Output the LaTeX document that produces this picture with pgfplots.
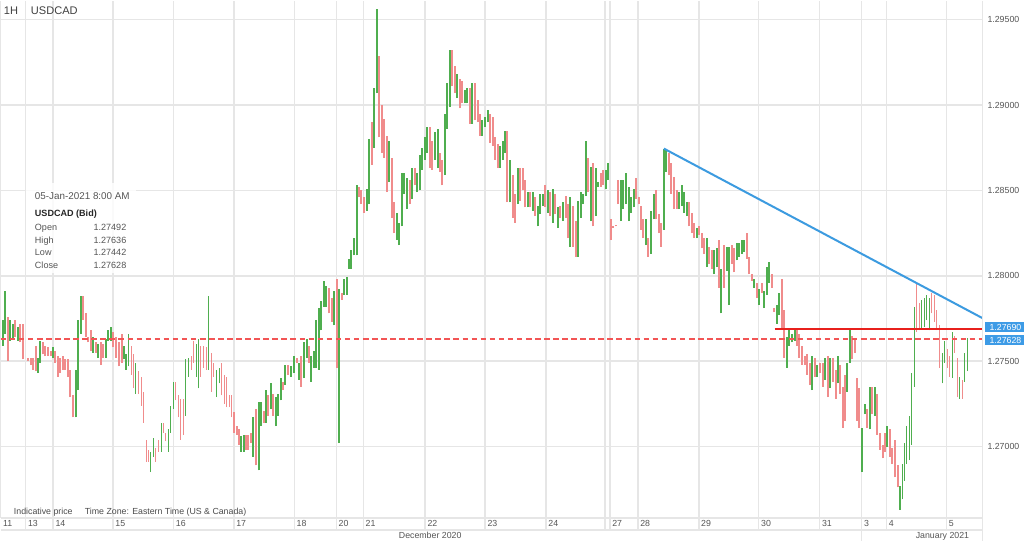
\documentclass[border=0pt]{standalone}
\usepackage{fontspec}
\setmainfont{Liberation Sans}
\usepackage{pgfplots}
\usepackage{pgfplotstable}
\pgfplotsset{compat=1.18}
\definecolor{bargreen}{HTML}{4FAE4F}
\definecolor{barred}{HTML}{F08C8C}
\definecolor{gridgray}{HTML}{E6E6E6}
\definecolor{txtgray}{HTML}{555555}
\definecolor{trendblue}{HTML}{3C9BE0}
\definecolor{lvlred}{HTML}{E8201C}
\definecolor{lastred}{HTML}{F25555}
\definecolor{tagblue}{HTML}{3D9BE6}

% hourly bars: x position, low, high, up(1)/down(0)
\pgfplotstableread{
x lo hi d
2 1.2759 1.2774 1
4 1.2766 1.2791 1
7 1.2750 1.2776 0
9 1.2762 1.2774 1
12 1.2763 1.2772 1
14 1.2764 1.2774 0
17 1.2762 1.2770 1
19 1.2761 1.2772 0
22 1.2751 1.2772 0
27 1.2750 1.2752 0
30 1.2748 1.2752 0
32 1.2745 1.2752 0
35 1.2744 1.2759 0
37 1.2743 1.2752 1
39 1.2749 1.2762 1
42 1.2754 1.2761 0
44 1.2753 1.2759 0
47 1.2753 1.2758 0
50 1.2753 1.2756 0
52 1.2752 1.2758 1
54 1.2749 1.2756 0
57 1.2741 1.2753 0
59 1.2743 1.2752 0
62 1.2745 1.2753 0
64 1.2745 1.2751 0
67 1.2741 1.2751 0
69 1.2729 1.2745 0
72 1.2717 1.2730 0
75 1.2717 1.2745 1
77 1.2733 1.2774 1
80 1.2766 1.2788 1
82 1.2774 1.2788 0
85 1.2764 1.2778 0
87 1.2761 1.2764 0
90 1.2756 1.2768 0
92 1.2755 1.2764 1
95 1.2755 1.2761 0
97 1.2752 1.2760 1
100 1.2748 1.2761 0
102 1.2752 1.2760 0
105 1.2752 1.2763 1
107 1.2762 1.2768 1
110 1.2762 1.2770 1
112 1.2758 1.2767 0
115 1.2752 1.2764 0
118 1.2747 1.2761 0
121 1.2749 1.2766 0
123 1.2751 1.2759 1
125 1.2745 1.2754 1
128 1.2747 1.2766 1
131 1.2742 1.2759 0
133 1.2734 1.2754 0
135 1.2731 1.2749 1
138 1.2731 1.2744 0
141 1.2724 1.2741 0
143 1.2714 1.2732 0
146 1.2691 1.2704 0
148 1.2691 1.2698 0
150 1.2685 1.2697 1
153 1.2694 1.2705 1
155 1.2691 1.2699 0
158 1.2697 1.2704 0
161 1.2697 1.2714 1
163 1.2708 1.2714 0
165 1.2703 1.2708 0
168 1.2697 1.2710 1
170 1.2708 1.2724 1
173 1.2722 1.2738 1
175 1.2727 1.2738 0
178 1.2717 1.2730 0
180 1.2704 1.2728 0
183 1.2707 1.2728 0
185 1.2718 1.2751 1
188 1.2741 1.2752 1
191 1.2745 1.2753 0
193 1.2749 1.2762 0
196 1.2741 1.2760 1
198 1.2734 1.2763 1
200 1.2741 1.2759 0
203 1.2746 1.2759 0
206 1.2745 1.2758 0
208 1.2745 1.2788 1
211 1.2732 1.2755 0
213 1.2741 1.2749 0
216 1.2729 1.2745 1
219 1.2737 1.2746 1
221 1.2730 1.2749 0
224 1.2725 1.2742 0
226 1.2723 1.2741 0
229 1.2723 1.2730 0
231 1.2717 1.2730 0
234 1.2708 1.2720 0
237 1.2707 1.2712 0
239 1.2701 1.2710 0
241 1.2697 1.2706 1
244 1.2697 1.2707 1
246 1.2698 1.2707 0
248 1.2698 1.2707 0
251 1.2702 1.2708 0
253 1.2694 1.2717 1
256 1.2689 1.2722 0
259 1.2686 1.2726 1
261 1.2712 1.2726 1
264 1.2714 1.2721 0
266 1.2714 1.2733 1
268 1.2718 1.2730 0
271 1.2722 1.2737 1
273 1.2718 1.2731 0
276 1.2712 1.2729 1
278 1.2718 1.2731 1
281 1.2727 1.2740 1
283 1.2733 1.2738 0
285 1.2736 1.2748 1
288 1.2742 1.2748 0
291 1.2741 1.2747 1
294 1.2743 1.2753 1
297 1.2749 1.2752 0
299 1.2739 1.2749 1
301 1.2735 1.2753 0
304 1.2740 1.2761 1
307 1.2752 1.2763 1
309 1.2749 1.2759 0
311 1.2738 1.2753 1
314 1.2746 1.2756 1
316 1.2746 1.2774 1
319 1.2745 1.2781 1
321 1.2768 1.2785 1
324 1.2782 1.2797 1
326 1.2782 1.2794 1
329 1.2778 1.2793 0
332 1.2773 1.2787 0
334 1.2771 1.2791 1
337 1.2746 1.2798 0
339 1.2702 1.2792 1
342 1.2786 1.2790 0
344 1.2789 1.2798 1
347 1.2789 1.2799 1
349 1.2804 1.2810 1
351 1.2804 1.2815 1
354 1.2812 1.2822 1
357 1.2812 1.2853 1
359 1.2846 1.2852 0
361 1.2842 1.2850 0
364 1.2837 1.2846 0
367 1.2838 1.2851 1
369 1.2842 1.2880 1
372 1.2865 1.2890 0
374 1.2875 1.2910 1
377 1.2907 1.2956 1
379 1.2881 1.2929 0
382 1.2872 1.2900 0
384 1.2869 1.2892 0
387 1.2849 1.2882 0
389 1.2855 1.2879 1
392 1.2834 1.2869 0
394 1.2825 1.2843 0
397 1.2821 1.2837 1
399 1.2818 1.2831 1
402 1.2829 1.2860 1
404 1.2848 1.2860 1
407 1.2839 1.2857 1
410 1.2842 1.2856 0
412 1.2845 1.2863 1
415 1.2853 1.2863 0
417 1.2849 1.2860 1
420 1.2850 1.2871 1
422 1.2862 1.2875 1
425 1.2868 1.2881 1
427 1.2872 1.2887 1
430 1.2863 1.2887 0
432 1.2862 1.2879 0
435 1.2868 1.2884 1
438 1.2863 1.2886 1
440 1.2861 1.2872 0
442 1.2853 1.2868 0
445 1.2859 1.2895 1
447 1.2886 1.2913 1
450 1.2899 1.2932 1
452 1.2911 1.2932 0
455 1.2907 1.2923 0
457 1.2904 1.2918 1
460 1.2898 1.2915 0
462 1.2901 1.2914 0
465 1.2901 1.2909 1
467 1.2901 1.2910 1
470 1.2889 1.2910 0
472 1.2889 1.2913 1
475 1.2891 1.2913 0
478 1.2890 1.2903 0
480 1.2882 1.2895 0
482 1.2882 1.2891 1
485 1.2887 1.2893 1
488 1.2890 1.2897 1
490 1.2878 1.2895 0
493 1.2876 1.2893 0
495 1.2868 1.2881 0
498 1.2863 1.2877 0
500 1.2863 1.2876 1
503 1.2868 1.2879 1
505 1.2872 1.2885 1
507 1.2843 1.2885 0
510 1.2843 1.2868 1
513 1.2834 1.2859 0
515 1.2831 1.2848 0
518 1.2842 1.2863 1
520 1.2844 1.2863 0
523 1.2850 1.2863 0
525 1.2840 1.2856 0
528 1.2840 1.2849 1
530 1.2840 1.2849 0
533 1.2838 1.2849 1
535 1.2835 1.2846 0
538 1.2829 1.2841 1
540 1.2836 1.2848 1
543 1.2841 1.2848 1
545 1.2840 1.2853 0
548 1.2837 1.2850 1
550 1.2835 1.2849 0
553 1.2831 1.2851 1
555 1.2836 1.2848 0
558 1.2828 1.2840 1
560 1.2834 1.2841 0
563 1.2832 1.2843 1
566 1.2834 1.2847 0
568 1.2822 1.2842 0
570 1.2817 1.2846 1
573 1.2817 1.2841 0
576 1.2811 1.2832 0
578 1.2811 1.2844 1
581 1.2834 1.2849 1
583 1.2842 1.2848 1
586 1.2847 1.2879 1
588 1.2849 1.2869 0
591 1.2832 1.2864 1
593 1.2829 1.2866 0
596 1.2835 1.2863 1
598 1.2852 1.2855 1
601 1.2852 1.2860 0
603 1.2853 1.2862 0
606 1.2851 1.2862 1
608 1.2856 1.2866 1
611 1.2821 1.2833 0
613 1.2828 1.2829 0
616 1.2829 1.2830 0
618 1.2842 1.2856 0
621 1.2832 1.2856 1
623 1.2839 1.2856 1
626 1.2842 1.2860 1
629 1.2832 1.2852 1
631 1.2837 1.2846 1
634 1.2840 1.2851 1
636 1.2845 1.2857 0
639 1.2842 1.2846 0
641 1.2827 1.2841 0
643 1.2822 1.2833 0
646 1.2818 1.2833 1
648 1.2811 1.2822 0
651 1.2813 1.2838 1
654 1.2833 1.2848 1
656 1.2833 1.2850 0
659 1.2825 1.2836 0
661 1.2817 1.2831 0
664 1.2827 1.2874 1
666 1.2861 1.2874 1
669 1.2859 1.2872 0
671 1.2848 1.2866 0
674 1.2839 1.2858 0
677 1.2839 1.2850 0
679 1.2839 1.2849 1
682 1.2841 1.2853 1
684 1.2837 1.2849 1
687 1.2835 1.2843 1
689 1.2829 1.2843 0
692 1.2825 1.2837 0
694 1.2822 1.2831 0
697 1.2822 1.2828 1
699 1.2824 1.2829 0
702 1.2816 1.2825 0
704 1.2813 1.2822 0
707 1.2805 1.2822 1
709 1.2807 1.2817 0
712 1.2804 1.2815 0
714 1.2801 1.2815 1
717 1.2805 1.2816 1
719 1.2793 1.2821 0
721 1.2778 1.2804 1
724 1.2793 1.2818 0
727 1.2803 1.2817 1
729 1.2783 1.2817 1
732 1.2807 1.2818 0
734 1.2802 1.2816 0
737 1.2809 1.2819 1
739 1.2811 1.2819 1
742 1.2813 1.2821 1
744 1.2814 1.2821 1
747 1.2810 1.2825 0
749 1.2801 1.2811 0
752 1.2797 1.2801 0
754 1.2793 1.2798 1
757 1.2787 1.2796 0
759 1.2783 1.2792 1
762 1.2790 1.2796 0
764 1.2781 1.2791 1
767 1.2789 1.2805 1
769 1.2796 1.2808 1
772 1.2793 1.2801 0
774 1.2779 1.2781 0
777 1.2772 1.2783 1
779 1.2777 1.2790 1
782 1.2769 1.2798 0
784 1.2752 1.2780 0
787 1.2746 1.2764 1
789 1.2759 1.2769 1
792 1.2761 1.2766 1
795 1.2762 1.2769 1
797 1.2759 1.2768 0
799 1.2752 1.2766 0
802 1.2748 1.2759 0
805 1.2748 1.2753 0
807 1.2742 1.2754 0
810 1.2736 1.2749 0
812 1.2733 1.2753 1
815 1.2741 1.2752 0
817 1.2741 1.2748 1
820 1.2743 1.2749 0
823 1.2735 1.2749 0
825 1.2739 1.2752 1
828 1.2729 1.2753 0
830 1.2734 1.2752 1
833 1.2738 1.2752 0
836 1.2728 1.2745 0
838 1.2737 1.2753 1
840 1.2731 1.2748 0
843 1.2711 1.2735 0
845 1.2715 1.2742 0
847 1.2732 1.2749 1
850 1.2749 1.2768 1
852 1.2751 1.2765 0
855 1.2755 1.2763 0
857 1.2715 1.2740 0
859 1.2711 1.2734 0
862 1.2685 1.2711 1
865 1.2719 1.2725 1
867 1.2711 1.2722 0
870 1.2710 1.2735 1
872 1.2719 1.2735 0
875 1.2718 1.2735 1
877 1.2707 1.2731 0
880 1.2698 1.2708 0
883 1.2693 1.2701 0
885 1.2697 1.2708 0
887 1.2700 1.2712 1
890 1.2694 1.2710 0
892 1.2690 1.2699 0
895 1.2682 1.2704 0
898 1.2676 1.2689 0
900 1.2663 1.2677 1
903 1.2669 1.2690 1
905 1.2680 1.2702 1
907 1.2690 1.2712 1
910 1.2692 1.2718 1
912 1.2701 1.2743 1
915 1.2735 1.2782 1
917 1.2767 1.2796 0
920 1.2768 1.2784 0
922 1.2769 1.2786 1
925 1.2770 1.2787 1
927 1.2774 1.2789 1
930 1.2768 1.2787 1
932 1.2778 1.2790 0
935 1.2773 1.2789 0
937 1.2768 1.2780 0
940 1.2746 1.2771 0
943 1.2737 1.2755 1
945 1.2749 1.2762 1
948 1.2746 1.2757 0
950 1.2741 1.2753 0
953 1.2740 1.2767 1
955 1.2755 1.2765 0
958 1.2729 1.2752 0
960 1.2728 1.2741 1
963 1.2728 1.2739 0
965 1.2738 1.2755 1
968 1.27442 1.27636 1
}\bars

\begin{document}
\begin{tikzpicture}
% pixel frame, 1px = 0.75pt, origin at top left
\begin{scope}[x=0.75pt,y=-0.75pt,shift={(0,388.5pt)}]
  \fill[white] (0,0) rectangle (1024,541);
  \useasboundingbox (0,0) rectangle (1024,541);
\end{scope}

\begin{axis}[
  at={(0,0)}, anchor=south west,
  scale only axis, width=737.25pt, height=388.5pt,
  xmin=0, xmax=983, ymin=1.26581, ymax=1.29611,
  axis line style={draw=none},
  tick style={draw=none},
  xtick={0,25,52.5,112.5,173,233.5,294,336,363,425,485,546,610,638,699,759,820,862,887,947},
  xticklabels={11,13,14,15,16,17,18,20,21,22,23,24,27,28,29,30,31,3,4,5},
  ytick={1.27,1.275,1.28,1.285,1.29,1.295},
  grid=major,
  grid style={gridgray, line width=1.1pt},
  yticklabel pos=right,
  xticklabel style={anchor=base west, inner sep=0pt, xshift=1.6pt, yshift=-6.5pt,
    font=\fontsize{6.6}{7}\selectfont, text=txtgray},
  yticklabel style={anchor=west, inner sep=0pt, xshift=3.6pt,
    font=\fontsize{6.6}{7}\selectfont, text=txtgray,
    /pgf/number format/.cd, fixed, fixed zerofill, precision=5,
    assume math mode=true},
]
\draw[gridgray, line width=1.1pt] (axis cs:605,1.26581) -- (axis cs:605,1.29611);

% rising bars
\addplot[-, bargreen, line width=1.4pt,
  restrict expr to domain={\thisrow{d}}{0.5:1.5},
  quiver={u=0, v=\thisrow{hi}-\thisrow{lo}}]
  table[x=x, y=lo] {\bars};
% falling bars
\addplot[-, barred, line width=1.4pt,
  restrict expr to domain={\thisrow{d}}{-0.5:0.5},
  quiver={u=0, v=\thisrow{hi}-\thisrow{lo}}]
  table[x=x, y=lo] {\bars};

% last close level
\draw[draw=lastred, line width=1.2pt, dash pattern=on 4.2pt off 2.6pt]
  (axis cs:0,1.27628) -- (axis cs:983,1.27628);
% horizontal level
\addplot[lvlred, line width=1.5pt] coordinates {(775,1.27690) (983,1.27690)};
% trend line
\addplot[trendblue, line width=1.5pt] coordinates {(664,1.28745) (983,1.27752)};

\coordinate (tagA) at (axis cs:983,1.27690);
\coordinate (tagB) at (axis cs:983,1.27628);
\end{axis}

% price tags
\node[fill=tagblue, text=white, anchor=west, inner sep=0pt, xshift=1.5pt, yshift=1.2pt,
  minimum width=29.5pt, minimum height=8pt,
  font=\fontsize{6.6}{7}\selectfont, align=left] at (tagA) {\hspace*{1.6pt}1.27690\hfill};
\node[fill=tagblue, text=white, anchor=west, inner sep=0pt, xshift=1.5pt, yshift=-0.6pt,
  minimum width=29.5pt, minimum height=8pt,
  font=\fontsize{6.6}{7}\selectfont, align=left] at (tagB) {\hspace*{1.6pt}1.27628\hfill};

\begin{scope}[x=0.75pt,y=-0.75pt,shift={(0,388.5pt)}]
  % frame lines of the axis area
  \draw[gridgray, line width=1.1pt] (0,518) -- (983,518);
  \draw[gridgray, line width=1.1pt] (0,530) -- (983,530);
  \draw[gridgray, line width=1.1pt] (983,0) -- (983,541);
  \draw[gridgray, line width=1.1pt] (862,530) -- (862,541);
  \foreach \t in {25,52.5,112.5,173,233.5,294,336,363,425,485,546,605,610,638,699,759,820,862,887,947}
    \draw[gridgray, line width=1.1pt] (\t,518) -- (\t,530);

  % header
  \node[anchor=base west, inner sep=0pt, text=black!75, font=\fontsize{8.3}{9}\selectfont] at (3,13.3) {1H};
  \node[anchor=base west, inner sep=0pt, text=black!75, font=\fontsize{8.3}{9}\selectfont] at (30,13.3) {USDCAD};

  % tooltip
  \fill[white, fill opacity=0.8] (25,183) rectangle (135,273);
  \node[anchor=base west, inner sep=0pt, text=txtgray, font=\fontsize{7.4}{8}\selectfont] at (34,199) {05-Jan-2021 8:00 AM};
  \node[anchor=base west, inner sep=0pt, text=black!85, font=\fontsize{6.8}{8}\selectfont\bfseries] at (34,216) {USDCAD (Bid)};
  \foreach \lab/\val/\yy in {Open/1.27492/230.5, High/1.27636/243, Low/1.27442/255.5, Close/1.27628/268}{
    \node[anchor=base west, inner sep=0pt, text=txtgray, font=\fontsize{6.8}{8}\selectfont] at (34,\yy) {\lab};
    \node[anchor=base east, inner sep=0pt, text=txtgray, font=\fontsize{6.8}{8}\selectfont] at (126,\yy) {\val};
  }

  % footnote
  \node[anchor=base west, inner sep=0pt, text=black!70, font=\fontsize{6.6}{8}\selectfont] at (13,514.5) {Indicative price};
  \node[anchor=base west, inner sep=0pt, text=black!70, font=\fontsize{6.6}{8}\selectfont] at (84,514.5) {Time Zone: Eastern Time (US \& Canada)};

  % months
  \node[anchor=base, inner sep=0pt, text=txtgray, font=\fontsize{6.6}{8}\selectfont] at (430,538) {December 2020};
  \node[anchor=base west, inner sep=0pt, text=txtgray, font=\fontsize{6.6}{8}\selectfont] at (916,538) {January 2021};
\end{scope}
\end{tikzpicture}
\end{document}
